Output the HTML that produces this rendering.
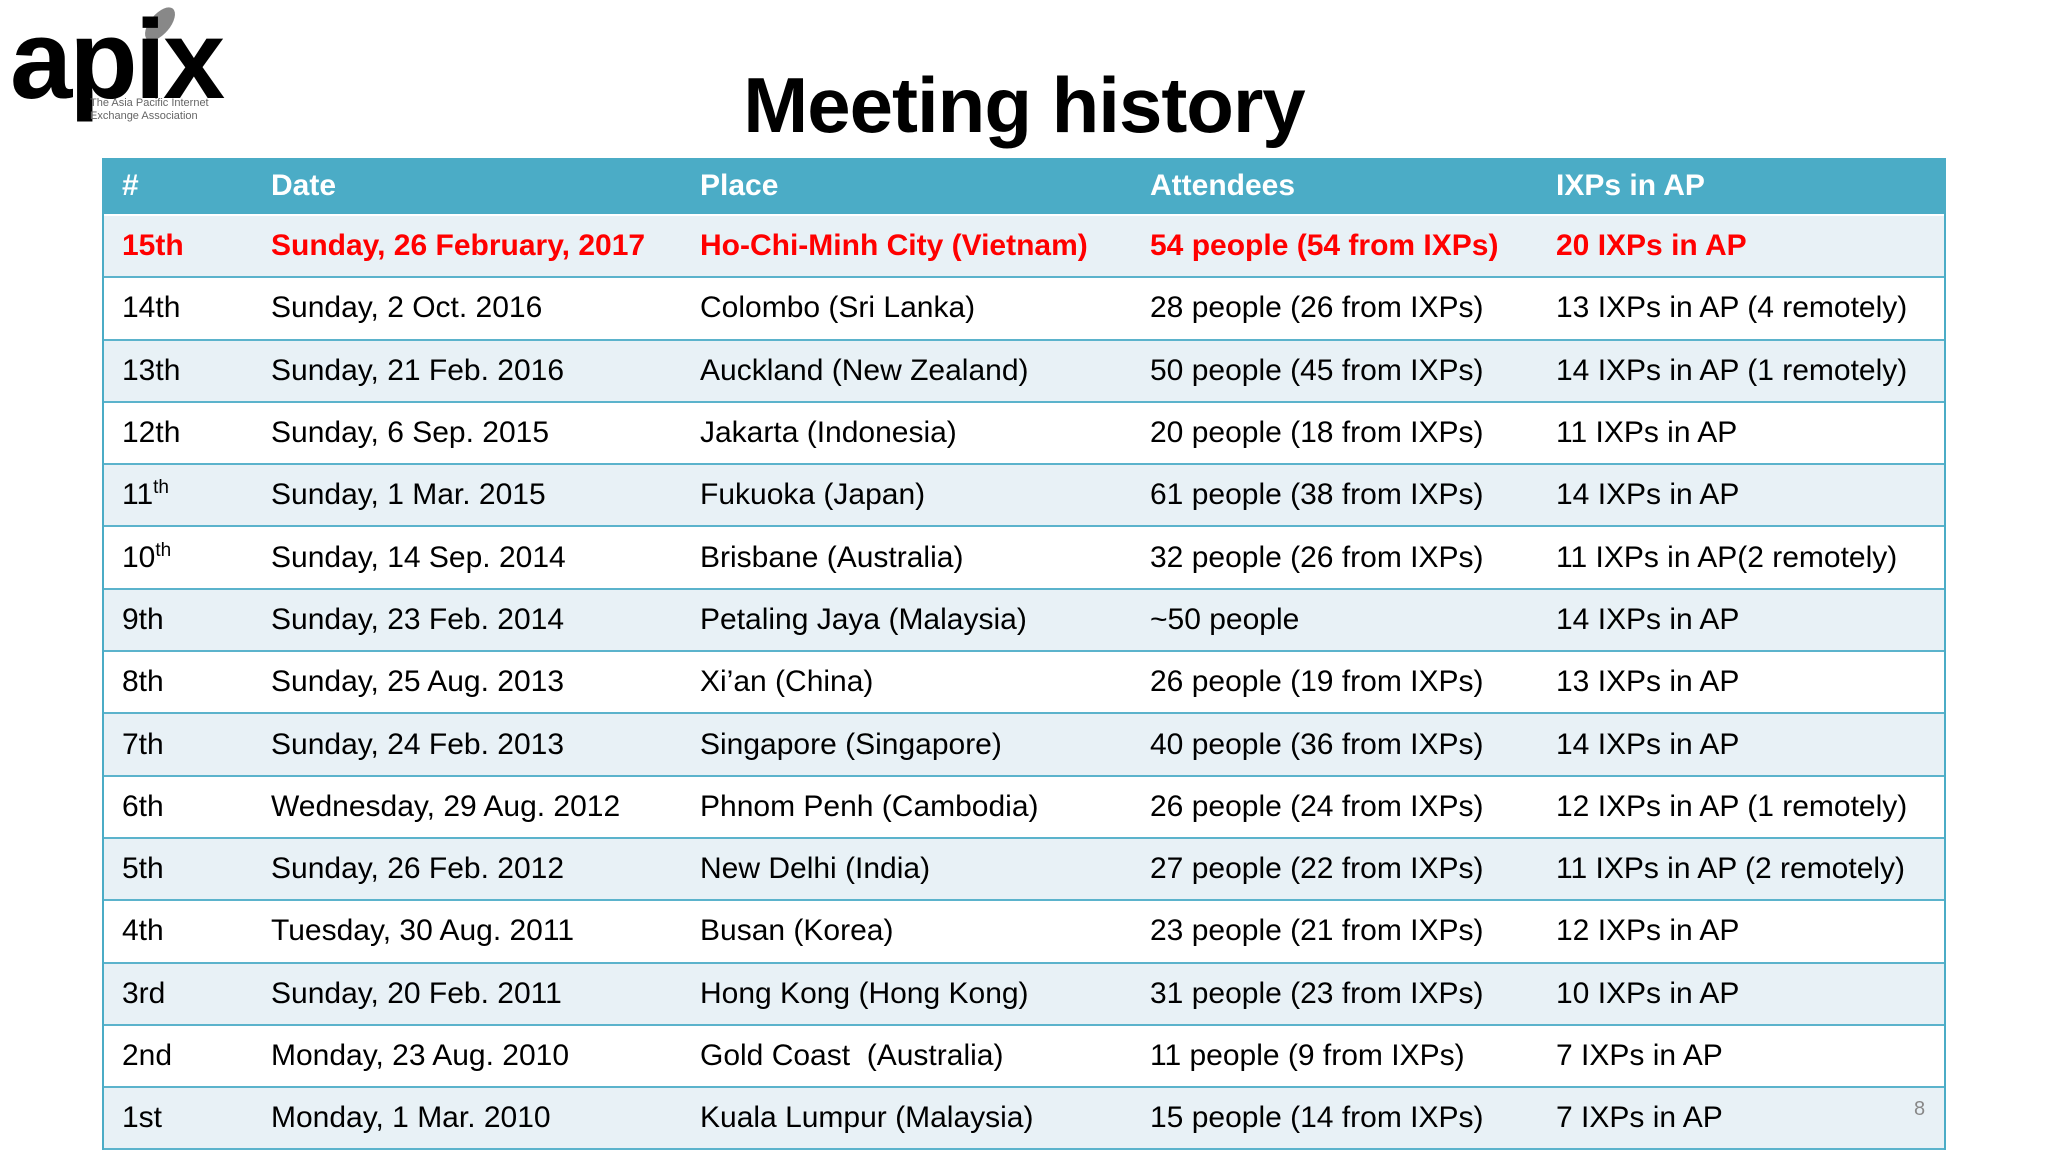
<!DOCTYPE html>
<html><head><meta charset="utf-8">
<style>
body{margin:0;width:2048px;height:1152px;background:#fff;position:relative;overflow:hidden;font-family:"Liberation Sans",sans-serif;}
.title{position:absolute;left:0;width:2048px;top:60px;text-align:center;font-size:78px;font-weight:bold;color:#000;letter-spacing:-1px;}
.tbl{position:absolute;left:102px;top:158px;width:1840px;border-left:2px solid #4bacc6;border-right:2px solid #4bacc6;}
.row{position:relative;height:60.3px;border-bottom:2px solid #5bb3cc;}
.hdr{height:56px;background:#4bacc6;color:#fff;font-weight:bold;border-bottom:2px solid #fff;}
.odd{background:#e8f1f6;}
.c{position:absolute;top:50%;transform:translateY(-50%);font-size:30px;white-space:nowrap;letter-spacing:0;line-height:34px;}
sup{font-size:19px;vertical-align:11px;line-height:0;}
.red{color:#f00;font-weight:bold;}
.logo{position:absolute;left:10px;top:0;}
.pg{position:absolute;left:1914px;top:1098px;font-size:20px;color:#888;}
</style></head><body>
<div class="logo">
<svg width="240" height="140">
<ellipse cx="150" cy="24" rx="10" ry="20" transform="rotate(40 150 24)" fill="#888"/>
<text x="0" y="98" font-family="Liberation Sans" font-weight="bold" font-size="112" fill="#000" letter-spacing="-3">apix</text>
<text x="80" y="106" font-family="Liberation Sans" font-size="11" fill="#666">The Asia Pacific Internet</text>
<text x="80" y="119" font-family="Liberation Sans" font-size="11" fill="#666">Exchange Association</text>
</svg></div>
<div class="title">Meeting history</div>
<div class="tbl" id="tbl"></div>
<div class="pg">8</div>
<script>
const nums=["15th","14th","13th","12th","11<sup>th</sup>","10<sup>th</sup>","9th","8th","7th","6th","5th","4th","3rd","2nd","1st"];
const dates=["Sunday, 26 February, 2017","Sunday, 2 Oct. 2016","Sunday, 21 Feb. 2016","Sunday, 6 Sep. 2015","Sunday, 1 Mar. 2015","Sunday, 14 Sep. 2014","Sunday, 23 Feb. 2014","Sunday, 25 Aug. 2013","Sunday, 24 Feb. 2013","Wednesday, 29 Aug. 2012","Sunday, 26 Feb. 2012","Tuesday, 30 Aug. 2011","Sunday, 20 Feb. 2011","Monday, 23 Aug. 2010","Monday, 1 Mar. 2010"];
const places=["Ho-Chi-Minh City (Vietnam)","Colombo (Sri Lanka)","Auckland (New Zealand)","Jakarta (Indonesia)","Fukuoka (Japan)","Brisbane (Australia)","Petaling Jaya (Malaysia)","Xi’an (China)","Singapore (Singapore)","Phnom Penh (Cambodia)","New Delhi (India)","Busan (Korea)","Hong Kong (Hong Kong)","Gold Coast&nbsp; (Australia)","Kuala Lumpur (Malaysia)"];
const attendees=["54 people (54 from IXPs)","28 people (26 from IXPs)","50 people (45 from IXPs)","20 people (18 from IXPs)","61 people (38 from IXPs)","32 people (26 from IXPs)","~50 people","26 people (19 from IXPs)","40 people (36 from IXPs)","26 people (24 from IXPs)","27 people (22 from IXPs)","23 people (21 from IXPs)","31 people (23 from IXPs)","11 people (9 from IXPs)","15 people (14 from IXPs)"];
const ixps=["20 IXPs in AP","13 IXPs in AP (4 remotely)","14 IXPs in AP (1 remotely)","11 IXPs in AP","14 IXPs in AP","11 IXPs in AP(2 remotely)","14 IXPs in AP","13 IXPs in AP","14 IXPs in AP","12 IXPs in AP (1 remotely)","11 IXPs in AP (2 remotely)","12 IXPs in AP","10 IXPs in AP","7 IXPs in AP","7 IXPs in AP"];
const headers=["#","Date","Place","Attendees","IXPs in AP"];
const colX=[18,167,596,1046,1452];
const tbl=document.getElementById('tbl');
function mkRow(cells,cls,name){
  const r=document.createElement('div');
  r.className='row '+cls;
  
  
  cells.forEach((t,j)=>{
    const c=document.createElement('div');
    c.className='c';
    c.style.left=colX[j]+'px';
    c.innerHTML=t;
    
    
    r.appendChild(c);
  });
  tbl.appendChild(r);
}
mkRow(headers,'hdr','header-row');
for(let i=0;i<nums.length;i++){
  mkRow([nums[i],dates[i],places[i],attendees[i],ixps[i]],(i%2===0?'odd':'')+(i===0?' red':''),'meeting-row');
}
</script>
</body></html>
